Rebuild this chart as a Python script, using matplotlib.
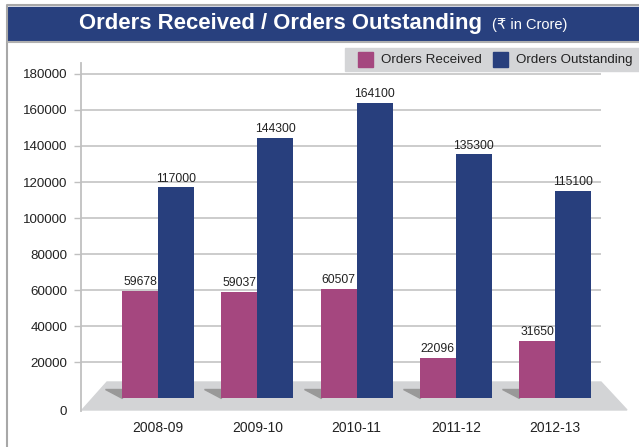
import numpy as np
import matplotlib.pyplot as plt
from matplotlib.patches import Rectangle, Polygon

# data
years = ['2008-09', '2009-10', '2010-11', '2011-12', '2012-13']
received = [59678, 59037, 60507, 22096, 31650]
outstanding = [117000, 144300, 164100, 135300, 115100]
yticks = [20000, 40000, 60000, 80000, 100000, 120000, 140000, 160000, 180000]

pink = '#a5477f'
navy = '#283f7d'
txt = '#222222'
plt.rcParams['font.family'] = ['Liberation Sans', 'DejaVu Sans']

W, H = 639, 447
fig = plt.figure(figsize=(W / 100, H / 100), dpi=100)

# background drawn in pixel coordinates
bg = fig.add_axes([0, 0, 1, 1])
bg.set_xlim(0, W)
bg.set_ylim(H, 0)
bg.axis('off')
bg.plot([7, 7, W], [H, 5, 5], color='#a8a8a8', lw=1.5)
bg.add_patch(Rectangle((8, 7), W - 8, 34, color='#28407e'))
bg.plot([8, W], [42, 42], color='#b0b0b0', lw=1.5)
title = bg.text(79, 24, 'Orders Received / Orders Outstanding', color='white',
                fontsize=15.9, fontweight='bold', va='center', ha='left')
# put the unit right after the title
fig.canvas.draw()
ext = title.get_window_extent()
x_end = ext.x1 * 100 / fig.dpi
bg.text(x_end + 10, 25, '(\u20b9 in Crore)', color='white', fontsize=10.5,
        va='center', ha='left', family=['Liberation Sans', 'DejaVu Sans'])

# legend box
bg.add_patch(Rectangle((345, 48), W - 345, 23, color='#d4d5d7'))
bg.add_patch(Rectangle((358, 52), 15, 15, color=pink))
bg.text(381, 60, 'Orders Received', fontsize=9.6, va='center', color=txt)
bg.add_patch(Rectangle((493, 52), 15, 15, color=navy))
bg.text(516, 60, 'Orders Outstanding', fontsize=9.6, va='center', color=txt)

# floor of the pseudo 3d plot
bg.add_patch(Polygon([(82, 410), (107, 382), (601, 382), (627, 410)],
                     closed=True, color='#d3d4d6', zorder=1))
bg.text(67, 412, '0', fontsize=9.6, ha='right', va='center', color=txt)

# main axes
ax = fig.add_axes([81 / W, 1 - 411 / H, 520 / W, 348 / H])
ax.patch.set_alpha(0)
x = np.arange(len(years))
w = 0.363
ax.set_xlim(-0.776, 4.463)
ax.set_ylim(-7222, 186111)

# little shadows behind the bar pairs
for xi in x:
    ax.add_patch(Polygon([(xi - w - 0.171, 5000), (xi - w, 5000), (xi - w, 0)],
                         closed=True, color='#999999', zorder=2))

b1 = ax.bar(x - w / 2, received, w, color=pink, zorder=3)
b2 = ax.bar(x + w / 2, outstanding, w, color=navy, zorder=3)
ax.bar_label(b1, padding=2, fontsize=8.7, color=txt)
ax.bar_label(b2, padding=2, fontsize=8.7, color=txt)

ax.set_yticks(yticks)
ax.set_yticklabels([str(v) for v in yticks], fontsize=9.6, color=txt)
ax.yaxis.grid(True, color='#c8c8c8', lw=1.3)
ax.set_axisbelow(True)
ax.tick_params(axis='y', length=5, width=1, color='#c0c0c0', pad=5)
ax.set_xticks(x)
ax.set_xticklabels(years, fontsize=10, color=txt)
ax.tick_params(axis='x', length=0, pad=7)
for s in ['top', 'right', 'bottom']:
    ax.spines[s].set_visible(False)
ax.spines['left'].set_color('#c0c0c0')
ax.spines['left'].set_linewidth(1.3)

fig.savefig('out.png', dpi=100)
